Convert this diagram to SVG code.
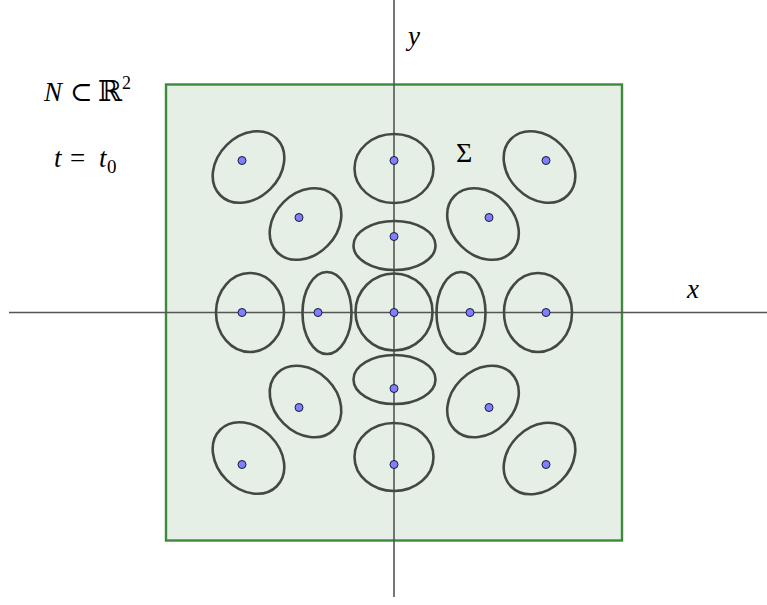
<svg xmlns="http://www.w3.org/2000/svg" width="767" height="605" viewBox="0 0 767 605">
<style>
.lbl{font-family:"Liberation Serif","DejaVu Serif",serif;fill:#000;}
.it{font-style:italic;}
.ell{fill:none;stroke:#444844;stroke-width:2.6;}
.pt{fill:#7f7fff;stroke:#1a1a33;stroke-width:1;}
.ax{stroke:#555;stroke-width:1.6;fill:none;}
</style>
<rect width="767" height="605" fill="#fff"/>
<g id="region">
<rect x="166" y="84.5" width="456" height="456" fill="#e5efe5" stroke="#3d8a3d" stroke-width="2.4"/>
</g>
<g id="axes">
<line class="ax" x1="9" y1="312.5" x2="767" y2="312.5"/>
<line class="ax" x1="394" y1="0" x2="394" y2="597"/>
</g>
<g id="ellipses">
<ellipse class="ell" cx="248.5" cy="167" rx="40" ry="31" transform="rotate(-45 248.5 167)"/>
<ellipse class="ell" cx="305.5" cy="224" rx="40" ry="31" transform="rotate(-45 305.5 224)"/>
<ellipse class="ell" cx="394" cy="168.5" rx="39.5" ry="34.5"/>
<ellipse class="ell" cx="394.5" cy="245.5" rx="41" ry="24.5"/>
<ellipse class="ell" cx="483" cy="224" rx="40" ry="31" transform="rotate(45 483 224)"/>
<ellipse class="ell" cx="539.5" cy="167" rx="40" ry="31" transform="rotate(45 539.5 167)"/>
<ellipse class="ell" cx="250" cy="312.5" rx="34" ry="39.5"/>
<ellipse class="ell" cx="327" cy="313" rx="24.5" ry="41"/>
<ellipse class="ell" cx="394" cy="312" rx="38.5" ry="38.5"/>
<ellipse class="ell" cx="461" cy="313" rx="24.5" ry="41"/>
<ellipse class="ell" cx="538" cy="312.5" rx="34" ry="39.5"/>
<ellipse class="ell" cx="394.5" cy="379.5" rx="41" ry="24.5"/>
<ellipse class="ell" cx="305.5" cy="401.5" rx="40" ry="31" transform="rotate(45 305.5 401.5)"/>
<ellipse class="ell" cx="483" cy="401.5" rx="40" ry="31" transform="rotate(-45 483 401.5)"/>
<ellipse class="ell" cx="248.5" cy="458" rx="40" ry="31" transform="rotate(45 248.5 458)"/>
<ellipse class="ell" cx="394" cy="457" rx="39.5" ry="34"/>
<ellipse class="ell" cx="539.5" cy="458.5" rx="40" ry="31" transform="rotate(-45 539.5 458.5)"/>
</g>
<g id="points">
<circle class="pt" cx="242" cy="160.5" r="4"/>
<circle class="pt" cx="299" cy="217.5" r="4"/>
<circle class="pt" cx="394" cy="160.5" r="4"/>
<circle class="pt" cx="394" cy="236.5" r="4"/>
<circle class="pt" cx="489" cy="217.5" r="4"/>
<circle class="pt" cx="546" cy="160.5" r="4"/>
<circle class="pt" cx="242" cy="312.5" r="4"/>
<circle class="pt" cx="318" cy="312.5" r="4"/>
<circle class="pt" cx="394" cy="312.5" r="4"/>
<circle class="pt" cx="470" cy="312.5" r="4"/>
<circle class="pt" cx="546" cy="312.5" r="4"/>
<circle class="pt" cx="394" cy="388.5" r="4"/>
<circle class="pt" cx="299" cy="407.5" r="4"/>
<circle class="pt" cx="489" cy="407.5" r="4"/>
<circle class="pt" cx="242" cy="464.5" r="4"/>
<circle class="pt" cx="394" cy="464.5" r="4"/>
<circle class="pt" cx="546" cy="464.5" r="4"/>
</g>
<g id="labels">
<text class="lbl it" x="408" y="45" font-size="27">y</text>
<text class="lbl it" x="687" y="298" font-size="27">x</text>
<text class="lbl" x="456" y="162" font-size="28">Σ</text>
<text class="lbl" y="101" font-size="27"><tspan class="it" x="44">N</tspan><tspan x="70">⊂</tspan><tspan x="98" font-size="29">ℝ</tspan><tspan font-size="18" x="122" y="89">2</tspan></text>
<text class="lbl" y="167" font-size="27"><tspan class="it" x="54">t</tspan><tspan x="70">=</tspan><tspan class="it" x="99">t</tspan><tspan font-size="19" x="107" y="173">0</tspan></text>
</g>
</svg>
